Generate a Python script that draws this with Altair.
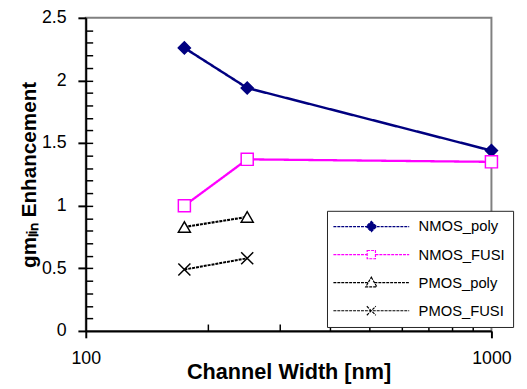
import altair as alt
import pandas as pd

# ---- data ----
series_names = ["NMOS_poly", "NMOS_FUSI", "PMOS_poly", "PMOS_FUSI"]
widths_nmos = [175, 250, 1000]
widths_pmos = [175, 250]
nmos_poly = [2.26, 1.94, 1.44]
nmos_fusi = [1.00, 1.37, 1.35]
pmos_poly = [0.83, 0.91]
pmos_fusi = [0.49, 0.58]

y_major = [0, 0.5, 1, 1.5, 2, 2.5]
y_minor = [0.1, 0.2, 0.3, 0.4, 0.5, 0.6, 0.7, 0.8, 0.9, 1.0, 1.1, 1.2,
           1.3, 1.4, 1.5, 1.6, 1.7, 1.8, 1.9, 2.0, 2.1, 2.2, 2.3, 2.4]
x_major = [100, 1000]
x_minor = [200, 300, 400, 500, 600, 700, 800, 900]

colors = ["#000080", "#ff00ff", "#000000", "#000000"]
fills = ["#000080", "#ffffff", "#ffffff", "#ffffff"]
shapes = ["diamond", "square", "triangle-up", "M-1,-1L1,1M-1,1L1,-1"]
dashes = [[1, 0], [1, 0], [3, 1], [3, 1]]
legend_paths = [
    "M-5.5,0H5.5M0,-0.75L0.75,0L0,0.75L-0.75,0Z",
    "M-5.5,0H-0.6M0.6,0H5.5M-0.6,-0.6H0.6V0.6H-0.6Z",
    "M-5.5,0H-0.45M0.45,0H5.5M0,-0.8L0.8,0.6H-0.8Z",
    "M-5.5,0H5.5M-0.65,-0.65L0.65,0.65M-0.65,0.65L0.65,-0.65",
]

rows = []
for w, v in zip(widths_nmos, nmos_poly):
    rows.append({"series": "NMOS_poly", "width": w, "value": v})
for w, v in zip(widths_nmos, nmos_fusi):
    rows.append({"series": "NMOS_FUSI", "width": w, "value": v})
for w, v in zip(widths_pmos, pmos_poly):
    rows.append({"series": "PMOS_poly", "width": w, "value": v})
for w, v in zip(widths_pmos, pmos_fusi):
    rows.append({"series": "PMOS_FUSI", "width": w, "value": v})
df = pd.DataFrame(rows)

FONT = "Liberation Sans"

xscale = alt.Scale(type="log", domain=[100, 1000], nice=False)
yscale = alt.Scale(domain=[0, 2.5], nice=False)

x_main = alt.X("width:Q", scale=xscale, axis=alt.Axis(
    orient="bottom", values=x_major, format="d", grid=False,
    tickSize=7, tickWidth=2, tickColor="black", domainColor="black",
    domainWidth=2, labelFont=FONT, labelFontSize=18, labelColor="black",
    labelPadding=12, labelFlush=False,
    title="Channel Width [nm]", titleFont=FONT, titleFontSize=22,
    titleFontWeight="bold", titleColor="black", titlePadding=-6))
y_main = alt.Y("value:Q", scale=yscale, axis=alt.Axis(
    orient="left", values=y_major, format="~g", grid=False,
    tickSize=8, tickWidth=2, tickColor="black", domainColor="black",
    domainWidth=2, labelFont=FONT, labelFontSize=18, labelColor="black",
    labelPadding=12,
    title="gmₗᵢₙ Enhancement", titleFont=FONT, titleFontSize=21,
    titleFontWeight="bold", titleColor="black", titlePadding=2))

x_minor_enc = alt.X("width:Q", scale=xscale, axis=alt.Axis(
    orient="bottom", values=x_minor, grid=False, domain=False, labels=False,
    title=None, tickSize=7, tickWidth=1.5, tickColor="black", offset=-7))
y_minor_enc = alt.Y("value:Q", scale=yscale, axis=alt.Axis(
    orient="left", values=y_minor, grid=False, domain=False, labels=False,
    title=None, tickSize=7, tickWidth=1.5, tickColor="black", offset=-7))

lines = alt.Chart(df).mark_line().encode(
    x=x_main, y=y_main,
    color=alt.Color("series:N", scale=alt.Scale(domain=series_names, range=colors), legend=None),
    strokeDash=alt.StrokeDash("series:N", scale=alt.Scale(domain=series_names, range=dashes), legend=None),
    strokeWidth=alt.StrokeWidth("series:N", scale=alt.Scale(domain=series_names, range=[2.5, 2, 1.5, 1.5]), legend=None),
    detail="series:N",
)

points = alt.Chart(df).mark_point(opacity=1, size=150, strokeWidth=1.5).encode(
    x=x_minor_enc, y=y_minor_enc,
    shape=alt.Shape("series:N", scale=alt.Scale(domain=series_names, range=shapes), legend=None),
    stroke=alt.Stroke("series:N", scale=alt.Scale(domain=series_names, range=colors), legend=None),
    fill=alt.Fill("series:N", scale=alt.Scale(domain=series_names, range=fills), legend=None),
)

legend_layer = alt.Chart(df).transform_filter("false").mark_point(opacity=1, strokeWidth=1.2).encode(
    shape=alt.Shape("series:N", scale=alt.Scale(domain=series_names, range=legend_paths), title=None),
    stroke=alt.Stroke("series:N", scale=alt.Scale(domain=series_names, range=colors), title=None),
    fill=alt.Fill("series:N", scale=alt.Scale(domain=series_names, range=fills), title=None),
)

chart = alt.layer(lines, points, legend_layer).resolve_scale(
    shape="independent", stroke="independent", fill="independent"
).resolve_axis(
    x="independent", y="independent"
).properties(
    width=412, height=318,
    autosize=alt.AutoSizeParams(type="none"),
    padding={"left": 79, "top": 7, "right": 28, "bottom": 56},
).configure_view(
    stroke="#808080", strokeWidth=2
).configure_legend(
    orient="none", legendX=245, legendY=196,
    fillColor="white", strokeColor="#222222", padding=8,
    symbolSize=196, symbolStrokeWidth=1.2, symbolOffset=29,
    symbolDash=[3, 1],
    labelOffset=40, labelFont=FONT, labelFontSize=15, labelColor="black",
    rowPadding=12.5, symbolLimit=0,
)

chart.save("out.html", embed_options={"renderer": "svg", "actions": False})
